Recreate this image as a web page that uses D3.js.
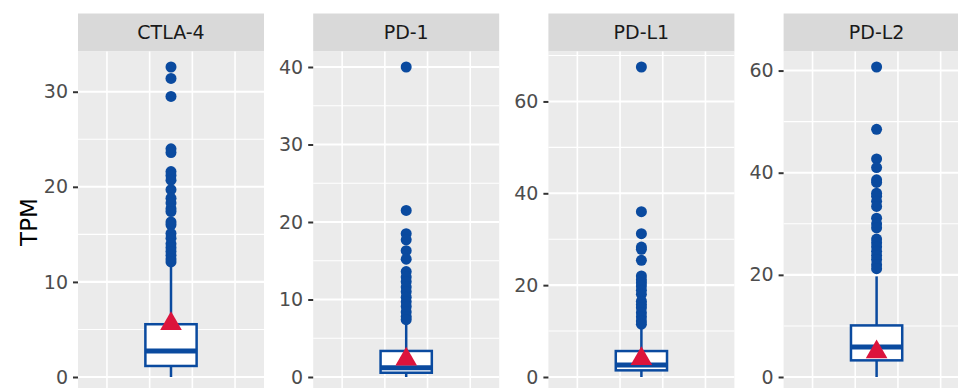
<!DOCTYPE html>
<html>
<head>
<meta charset="utf-8">
<script src="https://cdn.jsdelivr.net/npm/d3@7"></script>
<style>
  body { margin: 0; background: #fff; overflow: hidden; }
  text { font-family: "DejaVu Sans", sans-serif; }
</style>
</head>
<body>
<div id="chart"></div>
<script>
// facet labels and box statistics (TPM)
var genes = ["CTLA-4", "PD-1", "PD-L1", "PD-L2"];
var whiskerLow = [0, 0, 0, 0];
var q1 = [1.16, 0.55, 1.45, 3.26];
var medians = [2.74, 1.2, 2.6, 5.86];
var q3 = [5.55, 3.36, 5.65, 10.1];
var whiskerHigh = [12.0, 7.0, 11.0, 19.7];
var means = [5.6, 2.3, 4.0, 4.9];

var outliers = [
  [32.6, 31.4, 29.5, 24.0, 23.6, 21.6, 21.2, 20.7, 19.7, 18.8, 18.3, 17.7, 17.4,
   16.3, 16.0, 15.1, 14.6, 14.0, 13.6, 13.2, 12.8, 12.4, 12.1],
  [40.0, 21.5, 18.5, 17.7, 16.3, 15.2, 13.6, 12.9, 12.3, 11.6, 11.0, 10.3, 9.7,
   9.1, 8.4, 7.8, 7.4],
  [67.5, 36.0, 31.2, 28.3, 27.8, 25.4, 22.0, 21.2, 20.5, 19.8, 18.9, 18.0, 16.5,
   15.8, 15.1, 14.0, 13.1, 12.2, 11.5],
  [60.7, 48.5, 42.7, 41.0, 38.6, 38.1, 36.0, 35.4, 34.4, 33.4, 31.1, 30.0, 29.2,
   27.0, 26.3, 25.5, 24.6, 23.8, 23.0, 22.0, 21.2]
];

var yTicks = [
  [0, 10, 20, 30],
  [0, 10, 20, 30, 40],
  [0, 20, 40, 60],
  [0, 20, 40, 60]
];
var xGrid = [-0.3, -0.1, 0.1, 0.3];

var W = 958, H = 388;
var panelW = 186, panelStep = 235.2, firstLeft = 78;
var stripTop = 13.5, panelTop = 51.5, panelBottom = 392.5;

var svg = d3.select("#chart").append("svg")
    .attr("width", W)
    .attr("height", H);

svg.append("text")
    .attr("transform", "translate(37," + (panelTop + panelBottom) / 2 + ") rotate(-90)")
    .attr("text-anchor", "middle")
    .style("font-size", "23px")
    .style("fill", "#000")
    .text("TPM");

var x = d3.scaleLinear().domain([-0.4356, 0.4356]).range([0, panelW]);

genes.forEach(function(gene, i) {
  var g = svg.append("g")
      .attr("transform", "translate(" + (firstLeft + i * panelStep) + ",0)");

  var lo = whiskerLow[i], hi = d3.max(outliers[i].concat([whiskerHigh[i]]));
  var pad = (hi - lo) * 0.05;
  var y = d3.scaleLinear().domain([lo - pad, hi + pad]).range([panelBottom, panelTop]);

  // strip
  g.append("rect")
      .attr("x", 0).attr("y", stripTop)
      .attr("width", panelW).attr("height", panelTop - stripTop)
      .attr("fill", "#D9D9D9");
  g.append("text")
      .attr("x", panelW / 2).attr("y", (stripTop + panelTop) / 2)
      .attr("dy", "0.36em")
      .attr("text-anchor", "middle")
      .style("font-size", "19px")
      .style("fill", "#1A1A1A")
      .text(gene);

  // panel background
  g.append("rect")
      .attr("x", 0).attr("y", panelTop)
      .attr("width", panelW).attr("height", panelBottom - panelTop)
      .attr("fill", "#EBEBEB");

  // minor grid: midpoints between major ticks
  var t = yTicks[i], step = t[1] - t[0];
  var minor = d3.range(t[0] - step / 2, t[t.length - 1] + step, step)
      .filter(function(v) { return v > y.domain()[0] && v < y.domain()[1]; });
  g.selectAll(".minor").data(minor).enter().append("line")
      .attr("x1", 0).attr("x2", panelW)
      .attr("y1", function(d) { return y(d); })
      .attr("y2", function(d) { return y(d); })
      .attr("stroke", "#fff").attr("stroke-width", 1.1);
  g.selectAll(".major").data(t).enter().append("line")
      .attr("x1", 0).attr("x2", panelW)
      .attr("y1", function(d) { return y(d); })
      .attr("y2", function(d) { return y(d); })
      .attr("stroke", "#fff").attr("stroke-width", 2.1);
  g.selectAll(".vgrid").data(xGrid).enter().append("line")
      .attr("x1", function(d) { return x(d); })
      .attr("x2", function(d) { return x(d); })
      .attr("y1", panelTop).attr("y2", panelBottom)
      .attr("stroke", "#fff").attr("stroke-width", 1.6);

  // y axis
  var axis = g.append("g")
      .call(d3.axisLeft(y).tickValues(t).tickSize(5).tickPadding(5));
  axis.select(".domain").remove();
  axis.selectAll("line").attr("stroke", "#333333").attr("stroke-width", 2);
  axis.selectAll("text")
      .style("font-size", "19px")
      .style("font-family", "DejaVu Sans, sans-serif")
      .attr("fill", "#4D4D4D");

  // boxplot
  var blue = "#0A4A9F";
  var cx = x(0), bw = 0.24;
  g.append("line")
      .attr("x1", cx).attr("x2", cx)
      .attr("y1", y(q3[i])).attr("y2", y(whiskerHigh[i]))
      .attr("stroke", blue).attr("stroke-width", 2.5);
  g.append("line")
      .attr("x1", cx).attr("x2", cx)
      .attr("y1", y(q1[i])).attr("y2", y(whiskerLow[i]))
      .attr("stroke", blue).attr("stroke-width", 2.5);
  g.append("rect")
      .attr("x", x(-bw / 2)).attr("width", x(bw / 2) - x(-bw / 2))
      .attr("y", y(q3[i])).attr("height", y(q1[i]) - y(q3[i]))
      .attr("fill", "#fff").attr("stroke", blue).attr("stroke-width", 2.5);
  g.append("line")
      .attr("x1", x(-bw / 2)).attr("x2", x(bw / 2))
      .attr("y1", y(medians[i])).attr("y2", y(medians[i]))
      .attr("stroke", blue).attr("stroke-width", 5);

  g.selectAll(".out").data(outliers[i]).enter().append("circle")
      .attr("cx", cx)
      .attr("cy", function(d) { return y(d); })
      .attr("r", 5.5)
      .attr("fill", blue);

  // mean marker
  var r = 12.5;
  var my = y(means[i]);
  g.append("path")
      .attr("d", "M" + cx + "," + (my - r) +
                 "L" + (cx + r * Math.sqrt(3) / 2) + "," + (my + r / 2) +
                 "L" + (cx - r * Math.sqrt(3) / 2) + "," + (my + r / 2) + "Z")
      .attr("fill", "#DC143C");
});
</script>
</body>
</html>
